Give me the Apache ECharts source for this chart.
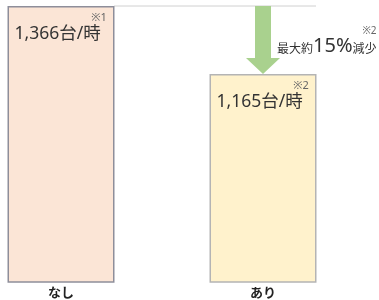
<!DOCTYPE html>
<html><head><meta charset="utf-8">
<script src="https://cdn.jsdelivr.net/npm/echarts@6/dist/echarts.min.js"></script>
<style>html,body{margin:0;padding:0;background:#fff}#c{width:379px;height:300px}</style>
</head><body><div id="c"></div>
<script>
const categories = ['なし', 'あり'];
const values = [1366, 1165];
const valueLabels = ['1,366台/時', '1,165台/時'];
const notes = ['※1', '※2'];
const reductionText = ['最大約', '15%', '減少'];
const reductionNote = '※2';

const FONT = "'Noto Sans', 'Noto Sans CJK JP', sans-serif";
const fills = ['#FBE5D6', '#FFF2CC'];
const borders = ['#8E8E9A', '#B4B4B4'];

const chart = echarts.init(document.getElementById('c'));
const data = values.map((v, i) => ({
  value: v,
  itemStyle: { color: fills[i], borderColor: borders[i], borderWidth: 1.5 },
  label: {
    show: true,
    position: [7, 7],
    fontFamily: FONT,
    formatter: '{s|' + notes[i] + '}\n{v|' + valueLabels[i] + '}{g|}',
    rich: {
      s: { fontSize: 11, color: '#666', align: 'right', lineHeight: 10, fontFamily: FONT },
      v: { fontSize: 17.5, color: '#333', lineHeight: 22, fontFamily: FONT },
      g: { width: 6 }
    }
  }
}));

chart.setOption({
  animation: false,
  textStyle: { fontFamily: FONT },
  grid: { left: 61, right: 116, top: 6, bottom: 15 },
  xAxis: {
    type: 'category', data: categories, boundaryGap: false,
    axisLine: { show: false }, axisTick: { show: false },
    axisLabel: { fontSize: 13, color: '#222', margin: 5, fontFamily: FONT, fontWeight: 'bold' }
  },
  yAxis: { type: 'value', min: 550, max: 1366, show: false, splitLine: { show: false } },
  series: [{ type: 'bar', data: data, barWidth: 107 }]
});

function draw() {
  const p1 = chart.convertToPixel({ gridIndex: 0 }, [categories[0], values[0]]);
  const p2 = chart.convertToPixel({ gridIndex: 0 }, [categories[1], values[0]]);
  const p3 = chart.convertToPixel({ gridIndex: 0 }, [categories[1], values[1]]);
  const half = 107 / 2;
  const cx = p2[0];
  const top = p1[1];
  const tip = p3[1];
  const headH = 16, shaftW = 8, headW = 17;
  chart.setOption({
    graphic: [
      { type: 'line', shape: { x1: p1[0] + half, y1: top, x2: p2[0] + half, y2: top },
        style: { stroke: '#A0A0A0', lineWidth: 1, lineDash: [1, 1] }, z: 10 },
      { type: 'polygon', shape: { points: [
          [cx - shaftW, top], [cx + shaftW, top], [cx + shaftW, tip - headH],
          [cx + headW, tip - headH], [cx, tip], [cx - headW, tip - headH], [cx - shaftW, tip - headH]] },
        style: { fill: '#A9D18E' }, z: 10 },
      { type: 'text', x: cx + 14, y: top + 20, z: 10,
        style: {
          fontFamily: FONT,
          text: '{s|' + reductionNote + '}\n{a|' + reductionText[0] + '}{b|' + reductionText[1] + '}{a|' + reductionText[2] + '}',
          rich: {
            s: { fontSize: 10, fill: '#666', align: 'right', lineHeight: 10, fontFamily: FONT },
            a: { fontSize: 12, fill: '#333', verticalAlign: 'bottom', lineHeight: 20, fontFamily: FONT },
            b: { fontSize: 20, fill: '#333', verticalAlign: 'bottom', lineHeight: 20, fontFamily: FONT }
          }
        } }
    ]
  });
}
draw();
</script></body></html>
